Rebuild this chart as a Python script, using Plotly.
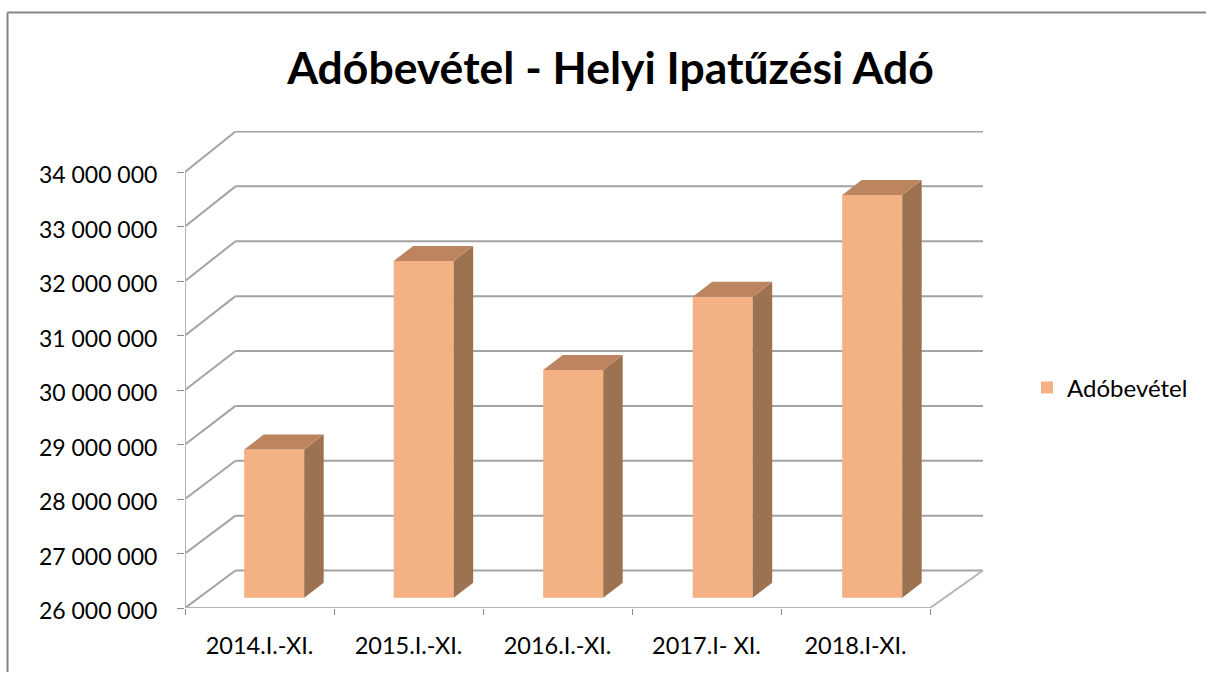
import plotly.graph_objects as go

# --- data ---
categories = ["2014.I.-XI.", "2015.I.-XI.", "2016.I.-XI.", "2017.I- XI.", "2018.I-XI."]
series_name = "Adóbevétel"
values = [28720000, 32180000, 30180000, 31520000, 33390000]
tick_values = [26000000, 27000000, 28000000, 29000000, 30000000, 31000000, 32000000, 33000000, 34000000]
tick_labels = ["26 000 000", "27 000 000", "28 000 000", "29 000 000", "30 000 000",
               "31 000 000", "32 000 000", "33 000 000", "34 000 000"]
title_text = "Adóbevétel - Helyi Ipatűzési Adó"

# --- oblique projection, expressed in axis units ---
BASE = 26000000
Y_UNIT = 1000000 / 54.5          # value units per pixel
X_UNIT = 1 / 149                 # category units per pixel
WALL_DX, WALL_DX_R, WALL_DY = 50.5 * X_UNIT, 53 * X_UNIT, 37.5 * Y_UNIT
WALL_SCALE = 439 / 436           # the back wall is drawn a touch taller than the front axis
BAR_SHIFT_X, BAR_LIFT = 14.7 * X_UNIT, 10.3 * Y_UNIT
BAR_PITCH = 149.5 * X_UNIT
BAR_W = 60 * X_UNIT
BAR_DX, BAR_DY = 19.5 * X_UNIT, 15 * Y_UNIT
LEFT, RIGHT = -0.5, 4.5

FRONT, SIDE, TOP = "#F4B183", "#9C7250", "#BC845F"
GRID = "#A3A3A3"
FONT = "Lato"

bar_x = [i * BAR_PITCH + BAR_SHIFT_X for i in range(len(values))]

fig = go.Figure()

# Front faces
fig.add_trace(go.Bar(
    x=bar_x,
    y=[v - BASE for v in values],
    base=BASE + BAR_LIFT,
    width=BAR_W,
    marker=dict(color=FRONT, line=dict(width=0)),
    name=series_name,
    customdata=categories,
    hovertemplate="%{customdata}<extra></extra>",
))

# Side and top faces
for cx, v in zip(bar_x, values):
    x0 = cx - BAR_W / 2
    x1 = x0 + BAR_W
    top = v + BAR_LIFT
    bot = BASE + BAR_LIFT
    fig.add_trace(go.Scatter(
        x=[x1, x1 + BAR_DX, x1 + BAR_DX, x1, x1], y=[bot, bot + BAR_DY, top + BAR_DY, top, bot],
        fill="toself", fillcolor=SIDE, mode="none", showlegend=False, hoverinfo="skip", cliponaxis=False))
    fig.add_trace(go.Scatter(
        x=[x0, x1, x1 + BAR_DX, x0 + BAR_DX, x0], y=[top, top, top + BAR_DY, top + BAR_DY, top],
        fill="toself", fillcolor=TOP, mode="none", showlegend=False, hoverinfo="skip", cliponaxis=False))

# Wall gridlines and floor, beneath the bars
shapes = []
def seg(x0, y0, x1, y1, width=2, color=GRID):
    shapes.append(dict(type="line", xref="x", yref="y", x0=x0, y0=y0, x1=x1, y1=y1,
                       layer="below", line=dict(color=color, width=width)))

for t in tick_values:
    back_y = BASE + (t - BASE) * WALL_SCALE + WALL_DY
    seg(LEFT, t, LEFT + WALL_DX, back_y)
    seg(LEFT + WALL_DX, back_y, RIGHT + WALL_DX_R, back_y)
seg(LEFT, BASE, LEFT, tick_values[-1], color="#B5B5B5")
seg(LEFT, BASE, RIGHT, BASE, color="#B5B5B5")
seg(RIGHT, BASE, RIGHT + WALL_DX_R, BASE + WALL_DY, color="#B5B5B5")

# Outer chart frame
PW, PH = 800, 477
fx = lambda px: (px - 185) / PW
fy = lambda py: (608 - py) / PH
for a, b, c, d in [(7.5, 12.5, 1206, 12.5), (7.5, 12.5, 7.5, 672)]:
    shapes.append(dict(type="line", xref="paper", yref="paper", x0=fx(a), y0=fy(b), x1=fx(c), y1=fy(d),
                       line=dict(color="#868686", width=2)))

fig.update_layout(
    width=1206, height=673,
    margin=dict(l=185, r=221, t=131, b=65, autoexpand=False),
    paper_bgcolor="white", plot_bgcolor="white",
    font=dict(family=FONT, size=23, color="black"),
    title=dict(text=f"<b>{title_text}</b>", x=610.5 / 1206, xanchor="center",
               y=1 - 68 / 673, yanchor="middle", font=dict(family=FONT, size=44.5, color="black")),
    showlegend=True,
    legend=dict(x=fx(1027), xanchor="left", y=fy(388), yanchor="middle", font=dict(family=FONT, size=24),
                bgcolor="rgba(0,0,0,0)"),
    barmode="overlay",
    shapes=shapes,
    xaxis=dict(range=[LEFT, LEFT + PW * X_UNIT], showgrid=False, zeroline=False, showline=False,
               tickmode="array", tickvals=list(range(len(categories))), ticktext=categories,
               ticks="", ticklabelstandoff=21, tickfont=dict(family=FONT, size=23.5),
               minor=dict(tickmode="array", tickvals=[LEFT + i for i in range(len(categories) + 1)],
                          ticks="outside", ticklen=6, tickcolor="#8C8C8C", tickwidth=1, showgrid=False)),
    yaxis=dict(range=[BASE, BASE + PH * Y_UNIT], showgrid=False, zeroline=False, showline=False,
               tickmode="array", tickvals=tick_values, ticktext=tick_labels,
               ticks="outside", ticklen=7, tickcolor="#8C8C8C", tickwidth=1,
               ticklabelstandoff=15, ticklabelshift=3,
               tickfont=dict(family=FONT, size=23)),
)

fig.write_html("out.html", config=dict(displayModeBar=False),
               post_script="document.body.style.margin='0';document.documentElement.style.overflow='hidden';")
